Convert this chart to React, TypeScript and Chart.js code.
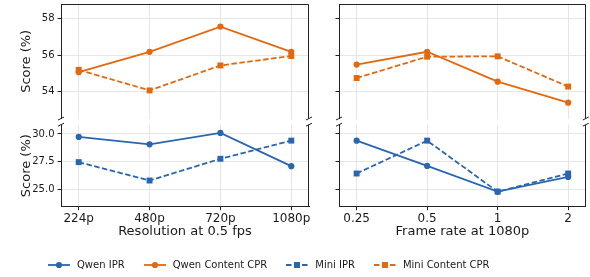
import React, { useEffect, useRef } from "react";
import { Chart, registerables } from "chart.js";
Chart.register(...registerables);

// ---- data ----
const resolutionLabels = ["224p", "480p", "720p", "1080p"];
const frameRateLabels = ["0.25", "0.5", "1", "2"];

const resQwenIPR = [29.73, 29.07, 30.09, 27.11];
const resQwenCPR = [55.07, 56.19, 57.57, 56.19];
const resMiniIPR = [27.47, 25.82, 27.77, 29.4];
const resMiniCPR = [55.2, 54.07, 55.44, 55.96];

const fpsQwenIPR = [29.4, 27.13, 24.82, 26.14];
const fpsQwenCPR = [55.49, 56.19, 54.55, 53.4];
const fpsMiniIPR = [26.45, 29.4, 24.82, 26.45];
const fpsMiniCPR = [54.75, 55.92, 55.94, 54.28];

const topTicks = [54, 56, 58];
const bottomTicks = [25, 27.5, 30];

// ---- style ----
const W = 590;
const H = 277;
const BLUE = "#2a66b0";
const ORANGE = "#e2690f";
const SPINE = "#222222";
const GRID = "#e6e6e6";
const TEXT = "#1a1a1a";
const FONT = "'DejaVu Sans', sans-serif";

type Series = { data: number[]; color: string; dashed: boolean; square: boolean };
type Spec = {
  L: number; R: number; T: number; B: number;
  yMin: number; yMax: number; yTicks: number[]; yFmt: (v: number) => string;
  showYLabels: boolean; isTop: boolean; xLabels: string[]; xTitle?: string;
  series: Series[];
};

const XH = 33;

function zeroPad(sc: any) {
  sc.paddingTop = 0;
  sc.paddingBottom = 0;
  sc.paddingLeft = 0;
  sc.paddingRight = 0;
}

function makeConfig(s: Spec): any {
  const xh = s.isTop ? 0 : XH;
  const framePlugin = {
    id: "frame",
    afterDraw(chart: any) {
      const { ctx, chartArea } = chart;
      const { left, right, top, bottom } = chartArea;
      ctx.save();
      ctx.strokeStyle = SPINE;
      ctx.lineWidth = 1;
      ctx.beginPath();
      const r = Math.round(right) - 0.5;
      if (s.isTop) {
        const t = Math.round(top) + 0.5;
        ctx.moveTo(left, t);
        ctx.lineTo(r, t);
        ctx.moveTo(r, t);
        ctx.lineTo(r, bottom);
      } else {
        ctx.moveTo(r, top);
        ctx.lineTo(r, bottom);
      }
      ctx.stroke();
      // break marks
      const y = s.isTop ? bottom : top;
      ctx.beginPath();
      for (const x of [left, right]) {
        ctx.moveTo(x - 3, y + 1.5);
        ctx.lineTo(x + 3, y - 1.5);
      }
      ctx.stroke();
      ctx.restore();
    },
  };
  return {
    type: "line",
    data: {
      datasets: s.series.map((ser) => ({
        data: ser.data.map((v, i) => ({ x: i, y: v })),
        borderColor: ser.color,
        backgroundColor: ser.color,
        borderWidth: 1.8,
        borderDash: ser.dashed ? [5.5, 2.5] : [],
        pointStyle: ser.square ? "rect" : "circle",
        pointRadius: ser.square ? 4.2 : 3.1,
        pointBorderWidth: 0,
        pointBackgroundColor: ser.color,
        tension: 0,
        clip: false,
      })),
    },
    options: {
      animation: false,
      responsive: false,
      devicePixelRatio: 1,
      events: [],
      layout: { padding: { left: 0, top: s.T, right: W - s.R, bottom: H - s.B - xh } },
      plugins: { legend: { display: false }, tooltip: { enabled: false } },
      scales: {
        x: {
          type: "linear",
          min: -0.25,
          max: 3.25,
          afterBuildTicks: (sc: any) => {
            sc.ticks = s.xLabels.map((_, i) => ({ value: i }));
          },
          afterFit: (sc: any) => {
            sc.height = xh;
            zeroPad(sc);
          },
          grid: { color: GRID, lineWidth: 1, drawTicks: !s.isTop, tickLength: 3.5, tickColor: SPINE },
          border: { display: !s.isTop, color: SPINE, width: 1 },
          ticks: {
            display: !s.isTop,
            padding: 1,
            maxRotation: 0,
            autoSkip: false,
            color: TEXT,
            font: { family: FONT, size: 12 },
            callback: (v: number) => s.xLabels[v],
          },
          title: {
            display: !!s.xTitle,
            text: s.xTitle || "",
            color: TEXT,
            font: { family: FONT, size: 13 },
            padding: 0,
          },
        },
        y: {
          min: s.yMin,
          max: s.yMax,
          afterBuildTicks: (sc: any) => {
            sc.ticks = s.yTicks.map((v) => ({ value: v }));
          },
          afterFit: (sc: any) => {
            sc.width = s.L;
            zeroPad(sc);
          },
          grid: { color: GRID, lineWidth: 1, drawTicks: true, tickLength: 3.5, tickColor: SPINE },
          border: { display: true, color: SPINE, width: 1 },
          ticks: {
            display: s.showYLabels,
            padding: 3,
            color: TEXT,
            font: { family: FONT, size: 10 },
            callback: (v: number) => s.yFmt(v),
          },
          title: {
            display: s.showYLabels,
            text: "Score (%)",
            color: TEXT,
            font: { family: FONT, size: 13 },
            padding: { top: 19, bottom: 0 },
          },
        },
      },
    },
    plugins: [framePlugin],
  };
}

function Panel({ spec }: { spec: Spec }) {
  const ref = useRef<HTMLCanvasElement | null>(null);
  useEffect(() => {
    if (!ref.current) return;
    const chart = new Chart(ref.current, makeConfig(spec));
    return () => chart.destroy();
  }, []);
  return (
    <canvas
      ref={ref}
      width={W}
      height={H}
      style={{ position: "absolute", left: 0, top: 0, width: W, height: H }}
    />
  );
}

const intFmt = (v: number) => String(v);
const decFmt = (v: number) => v.toFixed(1);

const TOP_T = 1;
const TOP_B = 118.5;
const BOT_T = 124.7;
const BOT_B = 206.7;
const LEFT_L = 61;
const LEFT_R = 309;
const RIGHT_L = 339;
const RIGHT_R = 586;

const specs: Spec[] = [
  {
    L: LEFT_L, R: LEFT_R, T: TOP_T, B: TOP_B, yMin: 52.53, yMax: 58.8, yTicks: topTicks, yFmt: intFmt,
    showYLabels: true, isTop: true, xLabels: resolutionLabels,
    series: [
      { data: resQwenCPR, color: ORANGE, dashed: false, square: false },
      { data: resMiniCPR, color: ORANGE, dashed: true, square: true },
    ],
  },
  {
    L: LEFT_L, R: LEFT_R, T: BOT_T, B: BOT_B, yMin: 23.47, yMax: 30.83, yTicks: bottomTicks, yFmt: decFmt,
    showYLabels: true, isTop: false, xLabels: resolutionLabels, xTitle: "Resolution at 0.5 fps",
    series: [
      { data: resQwenIPR, color: BLUE, dashed: false, square: false },
      { data: resMiniIPR, color: BLUE, dashed: true, square: true },
    ],
  },
  {
    L: RIGHT_L, R: RIGHT_R, T: TOP_T, B: TOP_B, yMin: 52.53, yMax: 58.8, yTicks: topTicks, yFmt: intFmt,
    showYLabels: false, isTop: true, xLabels: frameRateLabels,
    series: [
      { data: fpsQwenCPR, color: ORANGE, dashed: false, square: false },
      { data: fpsMiniCPR, color: ORANGE, dashed: true, square: true },
    ],
  },
  {
    L: RIGHT_L, R: RIGHT_R, T: BOT_T, B: BOT_B, yMin: 23.47, yMax: 30.83, yTicks: bottomTicks, yFmt: decFmt,
    showYLabels: false, isTop: false, xLabels: frameRateLabels, xTitle: "Frame rate at 1080p",
    series: [
      { data: fpsQwenIPR, color: BLUE, dashed: false, square: false },
      { data: fpsMiniIPR, color: BLUE, dashed: true, square: true },
    ],
  },
];

const legendItems = [
  { label: "Qwen IPR", color: BLUE, dashed: false, square: false },
  { label: "Qwen Content CPR", color: ORANGE, dashed: false, square: false },
  { label: "Mini IPR", color: BLUE, dashed: true, square: true },
  { label: "Mini Content CPR", color: ORANGE, dashed: true, square: true },
];

function LegendIcon({ color, dashed, square }: { color: string; dashed: boolean; square: boolean }) {
  return (
    <svg width={22} height={10} style={{ display: "block", marginRight: 7 }}>
      <line x1={0} y1={5} x2={22} y2={5} stroke={color} strokeWidth={1.8} strokeDasharray={dashed ? "5.5,2.5" : undefined} />
      {square ? <rect x={8} y={2} width={6} height={6} fill={color} /> : <circle cx={11} cy={5} r={3.1} fill={color} />}
    </svg>
  );
}

export default function App() {
  return (
    <div style={{ position: "absolute", left: 0, top: 0, width: W, height: H, background: "#fff", overflow: "hidden" }}>
      {specs.map((s, i) => (
        <Panel key={i} spec={s} />
      ))}
      <div
        style={{
          position: "absolute",
          left: 48,
          top: 257,
          height: 15,
          display: "flex",
          alignItems: "center",
          gap: 19,
          fontFamily: FONT,
          fontSize: 10,
          color: TEXT,
          whiteSpace: "nowrap",
        }}
      >
        {legendItems.map((it) => (
          <div key={it.label} style={{ display: "flex", alignItems: "center" }}>
            <LegendIcon color={it.color} dashed={it.dashed} square={it.square} />
            <span>{it.label}</span>
          </div>
        ))}
      </div>
    </div>
  );
}
